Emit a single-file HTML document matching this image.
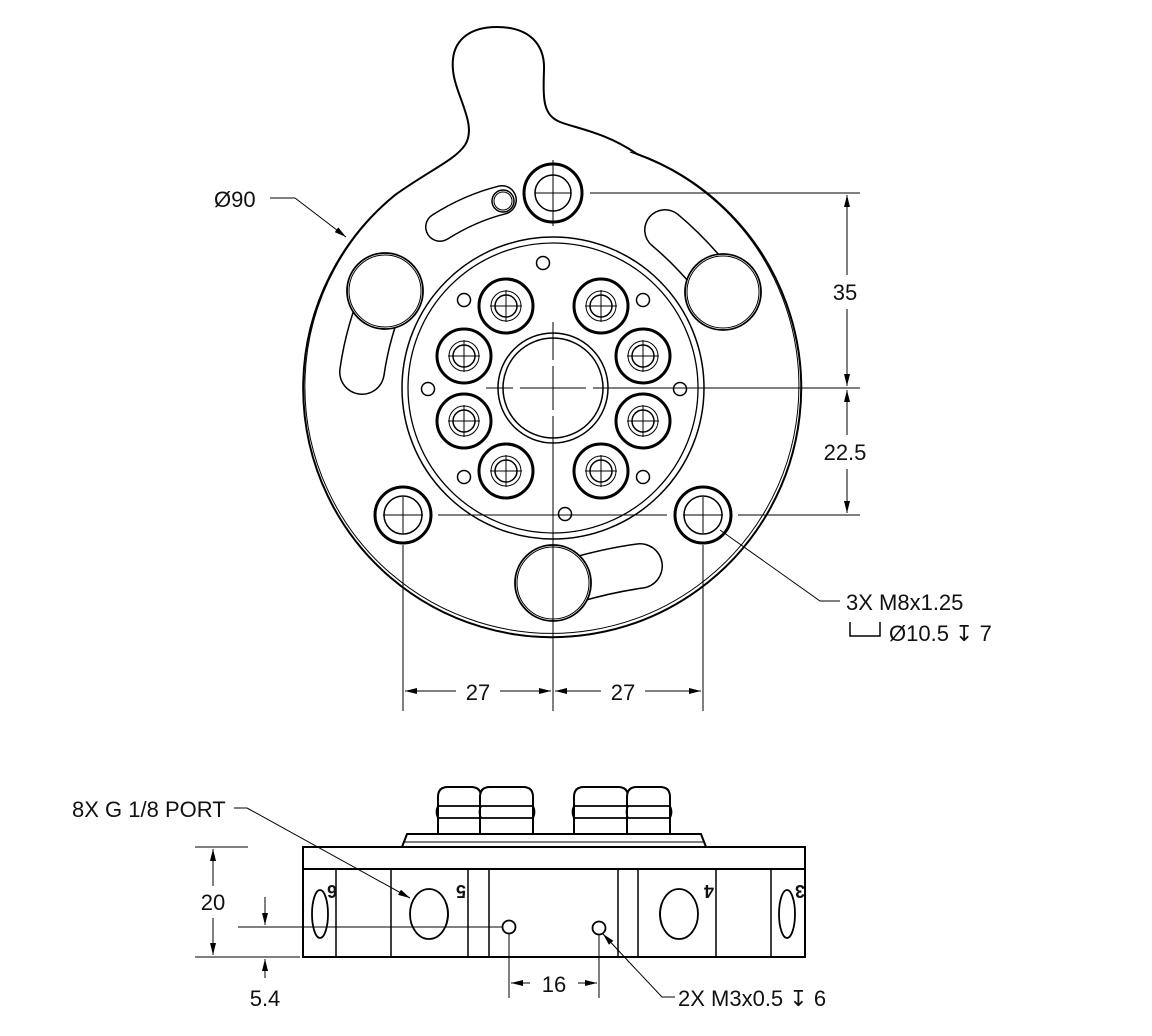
<!DOCTYPE html>
<html><head><meta charset="utf-8"><style>
html,body{margin:0;padding:0;background:#fff;}
svg{display:block;}
text{font-family:"Liberation Sans","DejaVu Sans",sans-serif;font-size:22px;fill:#111;}
.num{font-size:18px;font-weight:bold;}
</style></head><body>
<svg width="1152" height="1036" viewBox="0 0 1152 1036" xmlns="http://www.w3.org/2000/svg">
<defs>
<marker id="ar" viewBox="0 0 12 6" refX="12" refY="3" markerWidth="12" markerHeight="6" markerUnits="userSpaceOnUse" orient="auto-start-reverse">
<path d="M0,0 L12,3 L0,6 z" fill="#000"/></marker>
</defs>
<g fill="none" stroke="#000">
<path d="M395,195 C430,170 455,160 465,145 C478,125 455,95 453,70 C450,40 470,27 497,27 C530,27 545,45 544,70 C543,100 543,115 560,122 C575,128 605,132 637,154 A249,249 0 1 1 395,195 Z" stroke-width="2"/>
<path d="M402,190 A247,247 0 1 0 630,152" stroke-width="1"/>
<g stroke-linecap="round">
<path d="M440,227 Q470,208 502,200" stroke-width="30"/>
<path d="M440,227 Q470,208 502,200" stroke-width="27" stroke="#fff"/>
<path d="M665,230 Q695,255 723,292" stroke-width="42"/>
<path d="M665,230 Q695,255 723,292" stroke-width="39" stroke="#fff"/>
<path d="M385,291 Q368,330 362,372" stroke-width="46"/>
<path d="M385,291 Q368,330 362,372" stroke-width="43" stroke="#fff"/>
<path d="M575,580 Q610,570 640,566" stroke-width="46"/>
<path d="M575,580 Q610,570 640,566" stroke-width="43" stroke="#fff"/>
</g>
<circle cx="503" cy="201" r="11" fill="#fff" stroke-width="1.5"/><circle cx="503" cy="201" r="9" stroke-width="1"/>
<g fill="#fff" stroke-width="1.8">
<circle cx="385" cy="291" r="38"/><circle cx="723" cy="292" r="38"/><circle cx="553" cy="583" r="38"/>
</g>
<g stroke-width="1"><circle cx="385" cy="291" r="36"/><circle cx="723" cy="292" r="36"/><circle cx="553" cy="583" r="36"/></g>
<circle cx="553" cy="388" r="151" stroke-width="1.5"/>
<circle cx="553" cy="388" r="145" stroke-width="1.3"/>
<circle cx="553" cy="388" r="55" stroke-width="1.5"/>
<circle cx="553" cy="388" r="50" stroke-width="1.5"/>
<g stroke-width="3">
<circle cx="506" cy="306" r="27"/><circle cx="601" cy="306" r="27"/>
<circle cx="464" cy="356" r="27"/><circle cx="643" cy="356" r="27"/>
<circle cx="464" cy="421" r="27"/><circle cx="643" cy="421" r="27"/>
<circle cx="506" cy="471" r="27"/><circle cx="601" cy="471" r="27"/>
</g>
<g stroke-width="1">
<circle cx="506" cy="306" r="15"/><circle cx="601" cy="306" r="15"/>
<circle cx="464" cy="356" r="15"/><circle cx="643" cy="356" r="15"/>
<circle cx="464" cy="421" r="15"/><circle cx="643" cy="421" r="15"/>
<circle cx="506" cy="471" r="15"/><circle cx="601" cy="471" r="15"/>
</g>
<g stroke-width="1.5">
<circle cx="506" cy="306" r="11"/><circle cx="601" cy="306" r="11"/>
<circle cx="464" cy="356" r="11"/><circle cx="643" cy="356" r="11"/>
<circle cx="464" cy="421" r="11"/><circle cx="643" cy="421" r="11"/>
<circle cx="506" cy="471" r="11"/><circle cx="601" cy="471" r="11"/>
</g>
<g stroke-width="1">
<path d="M490,306h32M506,290v32M585,306h32M601,290v32M448,356h32M464,340v32M627,356h32M643,340v32M448,421h32M464,405v32M627,421h32M643,405v32M490,471h32M506,455v32M585,471h32M601,455v32"/>
</g>
<g stroke-width="1.5">
<circle cx="543" cy="263" r="6.5"/><circle cx="464" cy="300" r="6.5"/><circle cx="643" cy="300" r="6.5"/>
<circle cx="428" cy="389" r="6.5"/><circle cx="680" cy="389" r="6.5"/>
<circle cx="464" cy="477" r="6.5"/><circle cx="643" cy="477" r="6.5"/><circle cx="565" cy="514" r="6.5"/>
</g>
<g stroke-width="3"><circle cx="553" cy="193" r="29"/><circle cx="403" cy="515" r="28"/><circle cx="703" cy="515" r="28"/></g>
<g stroke-width="1.5"><circle cx="553" cy="193" r="18"/><circle cx="403" cy="515" r="19"/><circle cx="703" cy="515" r="19"/></g>
<g stroke-width="1">
<path d="M535,193h36M553,160v66M383,515h40M403,497v36M683,515h40M703,497v36"/>
<path d="M590,193H860"/>
<path d="M486,388h27M520,388h66M593,388h13M606,388H860"/>
<path d="M553,322v38M553,366v44M553,416v295"/>
<path d="M438,515H667M738,515H860"/>
<path d="M403,545V711M703,545V711"/>
<line x1="847" y1="292" x2="847" y2="195" marker-end="url(#ar)"/>
<line x1="847" y1="292" x2="847" y2="386" marker-end="url(#ar)"/>
<line x1="847" y1="452" x2="847" y2="390" marker-end="url(#ar)"/>
<line x1="847" y1="452" x2="847" y2="513" marker-end="url(#ar)"/>
<line x1="478" y1="691" x2="405" y2="691" marker-end="url(#ar)"/>
<line x1="478" y1="691" x2="551" y2="691" marker-end="url(#ar)"/>
<line x1="623" y1="691" x2="555" y2="691" marker-end="url(#ar)"/>
<line x1="623" y1="691" x2="701" y2="691" marker-end="url(#ar)"/>
<path d="M270,198H295"/><line x1="295" y1="198" x2="346" y2="237" marker-end="url(#ar)"/>
<path d="M720,530L820,601H840"/>
</g>
</g>
<g>
<rect x="825" y="275" width="44" height="34" fill="#fff"/><text x="845" y="300" text-anchor="middle">35</text>
<rect x="816" y="435" width="60" height="34" fill="#fff"/><text x="845" y="460" text-anchor="middle">22.5</text>
<rect x="456" y="675" width="44" height="32" fill="#fff"/><text x="478" y="700" text-anchor="middle">27</text>
<rect x="601" y="675" width="44" height="32" fill="#fff"/><text x="623" y="700" text-anchor="middle">27</text>
<text x="214" y="207">Ø90</text>
<text x="846" y="610">3X M8x1.25</text>
<path d="M850,622v14h30v-14" fill="none" stroke="#000" stroke-width="1.5"/>
<text x="889" y="641">Ø10.5 ↧ 7</text>
</g>

<g fill="none" stroke="#000">
<g stroke-width="2" fill="#fff">
<path d="M438,834V797Q438,787 448,787H471Q481,787 481,797V834Z"/>
<path d="M480,834V797Q480,787 490,787H523Q533,787 533,797V834Z"/>
<path d="M574,834V797Q574,787 584,787H618Q628,787 628,797V834Z"/>
<path d="M627,834V797Q627,787 637,787H660Q670,787 670,797V834Z"/>
</g>
<g stroke-width="1.8">
<path d="M438,806H533M574,806H670M438,818H533M574,818H670"/>
<path d="M438,806q-3,6 0,12M533,806q3,6 0,12M481,806q-3,6 0,12M574,806q-3,6 0,12M670,806q3,6 0,12M628,806q-3,6 0,12"/>
</g>
<path d="M402,847L407,834H701L706,847Z" stroke-width="2"/>
<path d="M404,842H704" stroke-width="1"/>
<rect x="303" y="847" width="502" height="22" stroke-width="2"/>
<rect x="303" y="869" width="502" height="88" stroke-width="2"/>
<path d="M336,869v88M391,869v88M468,869v88M489,869v88M618,869v88M638,869v88M716,869v88M771,869v88" stroke-width="1.5"/>
<g stroke-width="1.8">
<ellipse cx="429" cy="914" rx="19" ry="25"/><ellipse cx="679" cy="914" rx="19" ry="25"/>
<ellipse cx="320" cy="914" rx="8" ry="24"/><ellipse cx="787" cy="914" rx="8" ry="24"/>
<path d="M446,903q4,11 0,22M662,903q-4,11 0,22"/>
<circle cx="509" cy="927" r="6.5"/><circle cx="599" cy="928" r="6.5"/>
</g>
<g stroke-width="1">
<path d="M195,847H248M195,957H300M238,927H503"/>
<path d="M509,934V998M599,935V998"/>
<line x1="213" y1="902" x2="213" y2="849" marker-end="url(#ar)"/>
<line x1="213" y1="902" x2="213" y2="955" marker-end="url(#ar)"/>
<line x1="265" y1="897" x2="265" y2="925" marker-end="url(#ar)"/>
<line x1="265" y1="978" x2="265" y2="959" marker-end="url(#ar)"/>
<line x1="530" y1="983" x2="511" y2="983" marker-end="url(#ar)"/>
<line x1="578" y1="983" x2="597" y2="983" marker-end="url(#ar)"/>
<path d="M234,808H247"/><line x1="247" y1="808" x2="410" y2="898" marker-end="url(#ar)"/>
<path d="M675,997H662L630,963"/><line x1="630" y1="963" x2="603" y2="934" marker-end="url(#ar)"/>
</g>
</g>
<text class="num" x="461" y="873" text-anchor="middle" transform="rotate(180 461 879)">5</text>
<text class="num" x="709" y="873" text-anchor="middle" transform="rotate(180 709 879)">4</text>
<text class="num" x="332" y="873" text-anchor="middle" transform="rotate(180 332 879)">6</text>
<text class="num" x="800" y="873" text-anchor="middle" transform="rotate(180 800 879)">3</text>
<rect x="194" y="886" width="38" height="32" fill="#fff"/>
<text x="213" y="910" text-anchor="middle">20</text>
<text x="265" y="1006" text-anchor="middle">5.4</text>
<text x="554" y="992" text-anchor="middle">16</text>
<text x="72" y="817">8X G 1/8 PORT</text>
<text x="678" y="1006">2X M3x0.5 ↧ 6</text>
</svg>
</body></html>
